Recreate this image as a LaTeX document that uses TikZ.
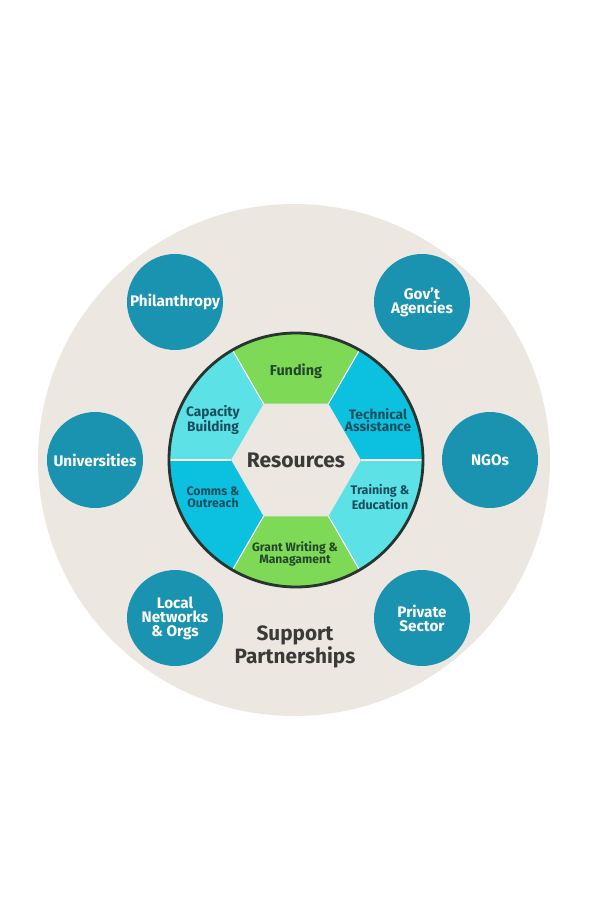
\documentclass[tikz,border=0pt]{standalone}
\usepackage{fontspec}
\setmainfont{Fira Sans}
\usetikzlibrary{positioning,calc}
\definecolor{sandbg}{HTML}{ECE8E1}
\definecolor{partnerfill}{HTML}{1A93B0}
\definecolor{leaf}{HTML}{7ED957}
\definecolor{aqua}{HTML}{5CE1E6}
\definecolor{sky}{HTML}{0CC0DF}
\definecolor{inktext}{HTML}{184E5E}
\definecolor{leaftext}{HTML}{23472B}
\definecolor{ringline}{HTML}{26352F}
\definecolor{headtext}{HTML}{3A3A3A}

\begin{document}
\begin{tikzpicture}[x=0.02cm, y=0.02cm,
    partner/.style={circle, fill=partnerfill, minimum size=1.92cm, inner sep=0pt, text=white, align=center, font=\bfseries\fontsize{8.7}{8}\selectfont},
    seglabel/.style 2 args={text=#1, align=center, font=\bfseries\fontsize{#2}{6.9}\selectfont},
    heading/.style 2 args={text=headtext, align=center, font=\bfseries\fontsize{#1}{#2}\selectfont}
]
\useasboundingbox (-296,-453) rectangle (304,460);

% Background disc
\fill[sandbg] (-2,0) circle (256);

% Partners
\node[partner] (phil) at (-121,158) {Philanthropy};
\node[partner] (gov)  at (126,158)  {Gov't\\Agencies};
\node[partner] (uni)  at (-201,0)   {Universities};
\node[partner] (ngo)  at (194,0)    {NGOs};
\node[partner] (local) at (-121,-158) {Local\\Networks\\\& Orgs};
\node[partner] (priv) at (126,-158) {Private\\Sector};

% Resource ring
\foreach \a/\c in {0/sky, 60/leaf, 120/aqua, 180/sky, 240/leaf, 300/aqua}
  \fill[\c] (\a:65) -- (\a:127) arc[start angle=\a, end angle={\a+60}, radius=127] -- ({\a+60}:65) -- cycle;
\foreach \a in {0,60,...,300}
  \draw[white, line width=0.6pt] (\a:65) -- (\a:127);
\draw[ringline, line width=1.6pt] (0,0) circle (127);

\node[seglabel={leaftext}{8.2}] (fund) at (0,89) {Funding};
\node[seglabel={inktext}{7.8}] (capa) at (-83,40) {Capacity\\Building};
\node[seglabel={inktext}{7.8}] (tech) at (82,40) {Technical\\Assistance};
\node[seglabel={inktext}{7}] (comm) at (-83,-37) {Comms \&\\Outreach};
\node[seglabel={inktext}{7.1}] (train) at (84,-37) {Training \&\\Education};
\node[seglabel={leaftext}{6.9}] (grant) at (-1,-94) {Grant Writing \&\\Managament};

\node[heading={12}{12}] (res) at (0,0) {Resources};
\node[heading={11.8}{10.2}] (supp) at (-1,-187) {Support\\Partnerships};

\end{tikzpicture}
\end{document}
